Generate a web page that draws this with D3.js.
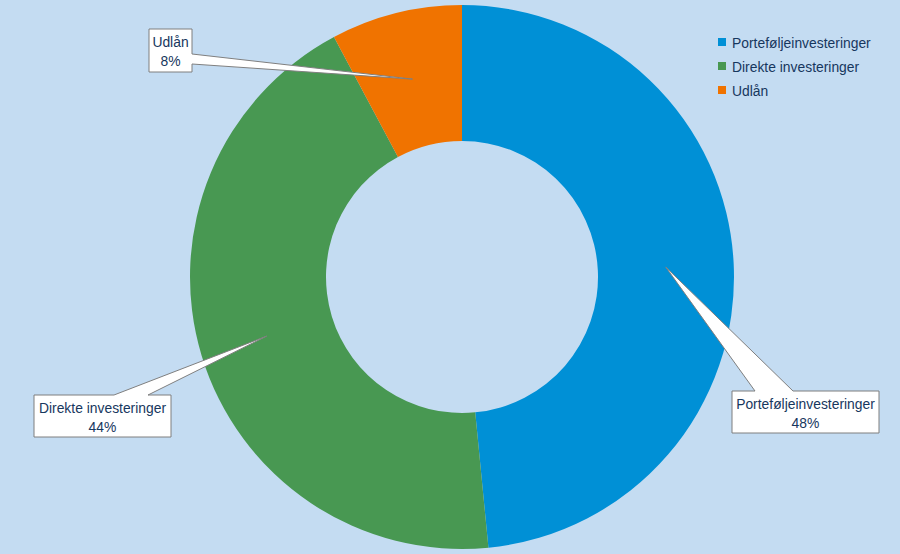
<!DOCTYPE html>
<html>
<head>
<meta charset="utf-8">
<script src="https://cdn.jsdelivr.net/npm/d3@7"></script>
<style>
  html, body { margin: 0; padding: 0; background: #C4DCF2; }
  svg { display: block; }
  text { font-family: "Liberation Sans", Arial, sans-serif; }
</style>
</head>
<body>
<svg id="chart" width="900" height="554"></svg>
<script>
// ---- data ----
const categories = ["Porteføljeinvesteringer", "Direkte investeringer", "Udlån"];
const values = [48.45, 43.75, 7.8];
const colors = ["#0090D6", "#489852", "#F07300"];

// ---- layout ----
const W = 900, H = 554;
const cx = 462, cy = 277, outerR = 272, innerR = 136;
const textColor = "#17375E";
const fontSize = 15, squeeze = 0.925;

const svg = d3.select("#chart");
svg.append("rect").attr("width", W).attr("height", H).attr("fill", "#C4DCF2");

const pie = d3.pie().sort(null).value(d => d.value);
const arc = d3.arc().innerRadius(innerR).outerRadius(outerR);
const data = categories.map((c, i) => ({ name: c, value: values[i], color: colors[i] }));
const arcs = pie(data);
const total = d3.sum(values);

const g = svg.append("g").attr("transform", `translate(${cx},${cy})`);
g.selectAll("path.slice").data(arcs).join("path")
  .attr("class", "slice")
  .attr("d", arc)
  .attr("fill", d => d.data.color);

function addText(parent, x, y, str, anchor) {
  return parent.append("text")
    .attr("transform", `translate(${x},${y}) scale(${squeeze},1)`)
    .attr("text-anchor", anchor)
    .attr("font-size", fontSize)
    .attr("fill", textColor)
    .text(str);
}

// ---- callouts ----
const callouts = [
  { box: [732, 391, 879, 433], side: "top", base: [755, 793] },
  { box: [34, 395, 171, 437], side: "top", base: [114, 148] },
  { box: [149, 29, 192, 72], side: "right", base: [54, 64] }
];

arcs.forEach((a, i) => {
  const co = callouts[i];
  const [x0, y0, x1, y1] = co.box;
  const c = arc.centroid(a);
  const tx = cx + c[0], ty = cy + c[1];
  let p;
  if (co.side === "top") {
    p = `M${x0},${y0} L${co.base[0]},${y0} L${tx},${ty} L${co.base[1]},${y0} L${x1},${y0} L${x1},${y1} L${x0},${y1} Z`;
  } else {
    p = `M${x0},${y0} L${x1},${y0} L${x1},${co.base[0]} L${tx},${ty} L${x1},${co.base[1]} L${x1},${y1} L${x0},${y1} Z`;
  }
  svg.append("path").attr("d", p)
    .attr("fill", "#FFFFFF")
    .attr("stroke", "#7F7F7F")
    .attr("stroke-width", 1);
  const mx = (x0 + x1) / 2;
  const pct = Math.round(a.data.value / total * 100) + "%";
  addText(svg, mx, y0 + 17.5, a.data.name, "middle");
  addText(svg, mx, y0 + 37, pct, "middle");
});

// ---- legend ----
const legend = svg.append("g").attr("transform", "translate(718,38)");
const rows = legend.selectAll("g").data(data).join("g")
  .attr("transform", (d, i) => `translate(0,${i * 24})`);
rows.append("rect").attr("width", 8).attr("height", 8).attr("fill", d => d.color);
rows.each(function(d) {
  addText(d3.select(this), 14, 9.5, d.name, "start");
});
</script>
</body>
</html>
